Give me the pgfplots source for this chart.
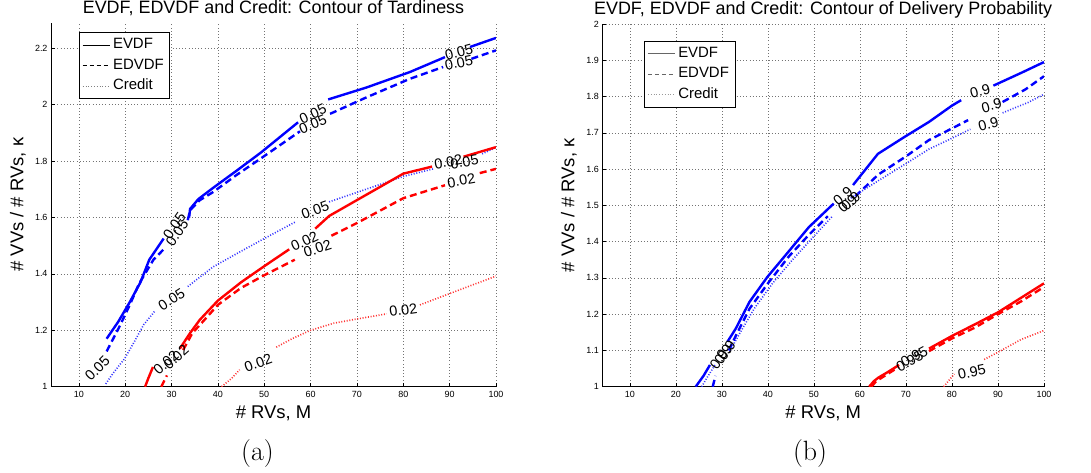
\documentclass[border=0pt]{standalone}
\usepackage{pgfplots}
\pgfplotsset{compat=1.18}
\usepackage{fontspec}
\newfontfamily\hel{Liberation Sans}
\newcommand{\cl}{\hel\fontsize{14.5}{16}\selectfont}
\newcommand{\lf}{\hel\fontsize{15}{17}\selectfont}
\pgfplotsset{
  mystyle/.style={
    scale only axis, anchor=south west,
    xmin=4, xmax=100,
    xtick={10,20,...,100},
    axis x line*=bottom, axis y line*=left,
    axis line style={black, line width=0.6pt},
    tick align=inside, major tick length=4bp,
    tick style={black, line width=0.5pt},
    grid=major,
    major grid style={black!55, line width=0.5pt, dash pattern=on 0.6bp off 2.6bp},
    /pgf/number format/assume math mode=true,
    ticklabel style={font=\hel\fontsize{9}{10}\selectfont},
    xticklabel style={yshift=-1bp},
    title style={font=\hel\fontsize{18}{20}\selectfont, at={(0.5,1)}, anchor=base, yshift=3bp},
    xlabel style={font=\hel\fontsize{18.5}{20}\selectfont, at={(0.5,0)}, anchor=base, yshift=-31.5bp},
    ylabel style={font=\hel\fontsize{18.5}{20}\selectfont, anchor=base},
    unbounded coords=jump,
    legend cell align=left,
    legend style={font=\lf, anchor=north west, draw=black, line width=0.8pt,
      nodes={inner sep=3bp, text height=11bp, text depth=3.5bp},
      inner xsep=3bp, inner ysep=2bp, row sep=0bp},
  },
  sol/.style={line width=2.4bp, solid},
  das/.style={line width=2.4bp, dash pattern=on 7bp off 4bp},
  dot/.style={line width=1.6bp, dash pattern=on 1bp off 1.7bp},
  legend image code/.code={\draw[#1] (0bp,0bp) -- (27bp,0bp);},
}
\begin{document}
\begin{tikzpicture}
\useasboundingbox (0,0) rectangle (1091bp,473bp);
% ---------------- panel (a) ----------------
\begin{axis}[mystyle, at={(51bp,86.3bp)}, width=445bp, height=364bp,
  ymin=1, ymax=2.29, ytick={1,1.2,...,2.2},
  title={EVDF, EDVDF and Credit: Contour of Tardiness},
  xlabel={\# RVs, M}, ylabel={\# VVs / \# RVs, κ},
  ylabel style={at={(axis description cs:-0.0622,0.5)}},
  legend style={at={(axis description cs:0.063,0.974)}}]
\addlegendimage{black, line width=0.6pt}
\addlegendimage{black, line width=0.6pt, dash pattern=on 4bp off 3bp}
\addlegendimage{black!50, line width=0.6pt, dash pattern=on 0.8bp off 2bp}
\legend{{\lf EVDF},{\lf EDVDF},{\lf Credit}}
% blue
\addplot[blue, sol] coordinates {(16,1.17) (18.5,1.23) (21,1.30) (23.3,1.37) (25.2,1.45) (28.3,1.525) (nan,nan) (33.8,1.60) (34.0,1.63) (35.8,1.665) (39,1.705) (44,1.765) (49.3,1.83) (57.3,1.937) (nan,nan) (63.8,2.018) (72,2.06) (81.4,2.115) (89,2.168) (nan,nan) (94.4,2.204) (100,2.236)};
\addplot[blue, das] coordinates {(16,1.125) (18.8,1.214) (21,1.29) (23,1.365) (26.1,1.45) (28.5,1.49) (nan,nan) (33.5,1.59) (34,1.625) (36,1.66) (39,1.69) (44,1.75) (49.1,1.807) (57.7,1.905) (nan,nan) (64.2,1.967) (72,2.025) (81.4,2.091) (88.6,2.133) (nan,nan) (94.7,2.162) (100,2.192)};
\addplot[blue!80, dot] coordinates {(15.8,1.01) (17.5,1.05) (19.9,1.10) (22,1.16) (24,1.22) (26.5,1.27) (nan,nan) (33.5,1.355) (39,1.425) (45,1.48) (50,1.525) (56.6,1.583) (nan,nan) (64,1.655) (72,1.70) (80,1.745) (86.5,1.772) (nan,nan) (97,1.825) (100,1.848)};
% red
\addplot[red, sol] coordinates {(24.3,1.0) (25,1.03) (26,1.07) (nan,nan) (31.8,1.135) (34,1.19) (36.1,1.237) (40,1.305) (45,1.37) (50,1.427) (55.4,1.487) (nan,nan) (61,1.56) (64,1.605) (72,1.68) (80,1.755) (86.2,1.78) (nan,nan) (93,1.815) (100,1.849)};
\addplot[red, das] coordinates {(27.8,1.0) (29,1.04) (nan,nan) (32.5,1.13) (34.5,1.19) (37,1.235) (40,1.29) (45,1.35) (50,1.395) (56.6,1.45) (nan,nan) (64.5,1.535) (70,1.58) (80,1.668) (89,1.714) (nan,nan) (96.5,1.757) (100,1.772)};
\addplot[red!80, dot] coordinates {(40.8,1.0) (43,1.03) (44.7,1.06) (nan,nan) (52.6,1.14) (56,1.17) (60,1.2) (65,1.225) (70,1.24) (76.4,1.258) (nan,nan) (83.6,1.29) (90,1.33) (100,1.392)};
% contour labels
\node[font=\cl, rotate=45] at (axis cs:14,1.065) {0.05};
\node[font=\cl, rotate=55] at (axis cs:30.6,1.57) {0.05};
\node[font=\cl, rotate=55] at (axis cs:31.2,1.545) {0.05};
\node[font=\cl, rotate=33] at (axis cs:30,1.31) {0.05};
\node[font=\cl, rotate=25] at (axis cs:60.5,1.967) {0.05};
\node[font=\cl, rotate=22] at (axis cs:60.5,1.93) {0.05};
\node[font=\cl, rotate=15] at (axis cs:92,2.187) {0.05};
\node[font=\cl, rotate=12] at (axis cs:92,2.148) {0.05};
\node[font=\cl, rotate=20] at (axis cs:61,1.625) {0.05};
\node[font=\cl, rotate=10] at (axis cs:89.7,1.797) {0.02};
\node[font=\cl, rotate=10] at (axis cs:93.2,1.797) {0.05};
\node[font=\cl, rotate=25] at (axis cs:58.7,1.515) {0.02};
\node[font=\cl, rotate=18] at (axis cs:61.5,1.49) {0.02};
\node[font=\cl, rotate=10] at (axis cs:92.5,1.73) {0.02};
\node[font=\cl, rotate=42] at (axis cs:28.8,1.085) {0.02};
\node[font=\cl, rotate=42] at (axis cs:31,1.105) {0.02};
\node[font=\cl, rotate=20] at (axis cs:48.7,1.085) {0.02};
\node[font=\cl, rotate=8] at (axis cs:80,1.272) {0.02};
\end{axis}
% ---------------- panel (b) ----------------
\begin{axis}[mystyle, at={(602.3bp,86.3bp)}, width=441.7bp, height=362.7bp,
  ymin=1, ymax=2, ytick={1,1.1,...,2.01},
  title={EVDF, EDVDF and Credit: Contour of Delivery Probability},
  title style={yshift=1bp},
  xlabel={\# RVs, M}, ylabel={\# VVs / \# RVs, κ},
  ylabel style={at={(axis description cs:-0.0634,0.5)}},
  legend style={at={(axis description cs:0.095,0.953)}}]
\addlegendimage{black!60, line width=0.6pt}
\addlegendimage{black!60, line width=0.6pt, dash pattern=on 4bp off 3bp}
\addlegendimage{black!40, line width=0.6pt, dash pattern=on 0.8bp off 2bp}
\legend{{\lf EVDF},{\lf EDVDF},{\lf Credit}}
\addplot[blue, sol] coordinates {(24.3,1.0) (26,1.03) (27.4,1.06) (nan,nan) (31.2,1.124) (33,1.16) (36,1.234) (39.9,1.303) (43,1.35) (48.9,1.44) (54.3,1.505) (nan,nan) (58.5,1.556) (63.9,1.642) (69.6,1.688) (75,1.73) (80,1.775) (82,1.79) (nan,nan) (89,1.83) (95,1.865) (100,1.895)};
\addplot[blue, das] coordinates {(28,1.0) (28.6,1.03) (nan,nan) (31.5,1.1) (33,1.14) (36,1.215) (40,1.285) (44.6,1.36) (49,1.42) (53,1.47) (nan,nan) (59,1.525) (64,1.585) (70,1.635) (75,1.68) (80,1.712) (83.5,1.735) (nan,nan) (91,1.785) (96,1.82) (100,1.856)};
\addplot[blue!80, dot] coordinates {(25.6,1.0) (27,1.03) (28.5,1.06) (nan,nan) (31.8,1.1) (34,1.15) (37,1.215) (41,1.285) (45,1.345) (50,1.415) (54,1.47) (nan,nan) (58,1.52) (64,1.568) (70,1.615) (75,1.655) (80,1.685) (84,1.71) (nan,nan) (91,1.755) (96.6,1.784) (100,1.806)};
\addplot[red, sol] coordinates {(62,1.0) (63,1.015) (64,1.025) (66,1.04) (68.5,1.06) (nan,nan) (75,1.105) (80,1.14) (85,1.172) (90,1.205) (95,1.245) (100,1.285)};
\addplot[red, das] coordinates {(62.5,1.0) (63.5,1.015) (66,1.035) (68.5,1.055) (nan,nan) (75,1.098) (80,1.133) (85,1.163) (90,1.2) (95,1.235) (100,1.275)};
\addplot[red!80, dot] coordinates {(78.2,1.0) (79.5,1.02) (80.5,1.035) (nan,nan) (87,1.075) (90,1.095) (95,1.13) (100,1.155)};
\node[font=\cl, rotate=55] at (axis cs:29.3,1.075) {0.9};
\node[font=\cl, rotate=55] at (axis cs:30.3,1.09) {0.9};
\node[font=\cl, rotate=55] at (axis cs:31,1.1) {0.9};
\node[font=\cl, rotate=40] at (axis cs:56.3,1.525) {0.9};
\node[font=\cl, rotate=40] at (axis cs:57.3,1.505) {0.9};
\node[font=\cl, rotate=40] at (axis cs:58,1.512) {0.9};
\node[font=\cl, rotate=15] at (axis cs:86.1,1.815) {0.9};
\node[font=\cl, rotate=15] at (axis cs:88.6,1.775) {0.9};
\node[font=\cl, rotate=15] at (axis cs:87.9,1.724) {0.9};
\node[font=\cl, rotate=28] at (axis cs:70.8,1.07) {0.95};
\node[font=\cl, rotate=28] at (axis cs:71.8,1.083) {0.95};
\node[font=\cl, rotate=12] at (axis cs:84.3,1.04) {0.95};
\end{axis}
\node[anchor=base, font=\fontsize{28}{30}\selectfont] at (257.5bp,13bp) {(a)};
\node[anchor=base, font=\fontsize{28}{30}\selectfont] at (810bp,13bp) {(b)};
\end{tikzpicture}
\end{document}
